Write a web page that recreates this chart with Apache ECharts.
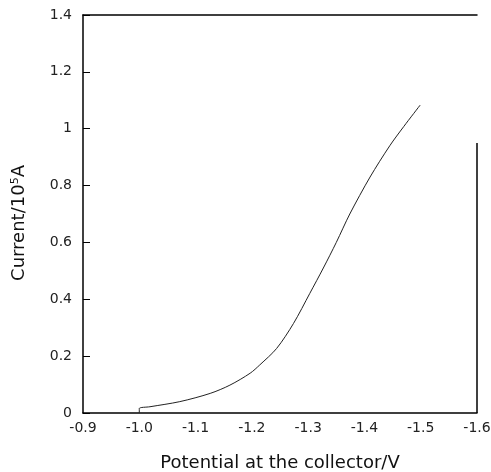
<!DOCTYPE html>
<html><head><meta charset="utf-8">
<script src="https://cdn.jsdelivr.net/npm/echarts@6/dist/echarts.min.js"></script>
<style>html,body{margin:0;padding:0;background:#fff}#c{width:491px;height:472px}</style>
</head><body><div id="c"></div>
<script>
// Potential at the collector (V) and current (10^-5 A)
const potential = [-1.000, -1.000, -1.019, -1.072, -1.126, -1.161, -1.197, -1.214, -1.244, -1.274, -1.303, -1.327, -1.350, -1.374, -1.410, -1.445, -1.470, -1.499];
const current   = [0.000, 0.016, 0.022, 0.040, 0.069, 0.098, 0.140, 0.169, 0.227, 0.315, 0.421, 0.510, 0.600, 0.700, 0.830, 0.940, 1.008, 1.083];
const xTicks = ['-0.9','-1.0','-1.1','-1.2','-1.3','-1.4','-1.5','-1.6'];
const yTicks = ['0','0.2','0.4','0.6','0.8','1','1.2','1.4'];
// right border segment visible in the scan (from 0 up to about 0.95)
const rightBorder = [[-1.6, 0], [-1.6, 0.95]];

const chart = echarts.init(document.getElementById('c'));
const font = '"DejaVu Sans", sans-serif';
chart.setOption({
  animation: false,
  backgroundColor: '#fff',
  grid: {left: 83, right: 14, top: 15, bottom: 59, containLabel: false, outerBoundsMode: 'none'},
  xAxis: [{
    type: 'value', inverse: true, min: -1.6, max: -0.9, interval: 0.1,
    name: 'Potential at the collector/V', nameLocation: 'middle', nameGap: 41,
    nameTextStyle: {fontFamily: font, fontSize: 18, color: '#111'},
    axisLine: {show: true, lineStyle: {color: '#000', width: 1.5}},
    axisTick: {show: false},
    splitLine: {show: false},
    axisLabel: {fontFamily: font, fontSize: 14, color: '#222', margin: 8,
      formatter: v => { const s = v.toFixed(1); return xTicks.includes(s) ? s : ''; }}
  }, {
    type: 'value', inverse: true, min: -1.6, max: -0.9, position: 'top',
    axisLine: {show: true, lineStyle: {color: '#000', width: 1.5}},
    axisTick: {show: false}, axisLabel: {show: false}, splitLine: {show: false}
  }],
  yAxis: {
    type: 'value', min: 0, max: 1.4, interval: 0.2,
    name: '{a|Current/10}{s|5}{a|A}', nameLocation: 'middle', nameGap: 54, nameRotate: 90,
    nameTextStyle: {padding: [0, 18, 0, 0], rich: {
      a: {fontFamily: font, fontSize: 18, color: '#111'},
      s: {fontFamily: font, fontSize: 11, color: '#111', verticalAlign: 'top', padding: [0,0,8,0]}
    }},
    axisLine: {show: true, lineStyle: {color: '#000', width: 1.5}},
    axisTick: {show: true, inside: true, length: 7, lineStyle: {color: '#000', width: 1}},
    splitLine: {show: false},
    axisLabel: {fontFamily: font, fontSize: 14, color: '#222', margin: 11,
      formatter: v => { const s = String(Math.round(v * 10) / 10); return yTicks.includes(s) ? s : ''; }}
  },
  series: [{
    type: 'line', xAxisIndex: 0,
    data: potential.map((p, i) => [p, current[i]]),
    smooth: 0.3, showSymbol: false,
    lineStyle: {color: '#222', width: 1},
    markLine: {
      silent: true, symbol: ['none', 'none'], label: {show: false},
      lineStyle: {color: '#000', width: 1.5, type: 'solid'},
      data: [[{coord: rightBorder[0]}, {coord: rightBorder[1]}]]
    }
  }]
});
</script></body></html>
